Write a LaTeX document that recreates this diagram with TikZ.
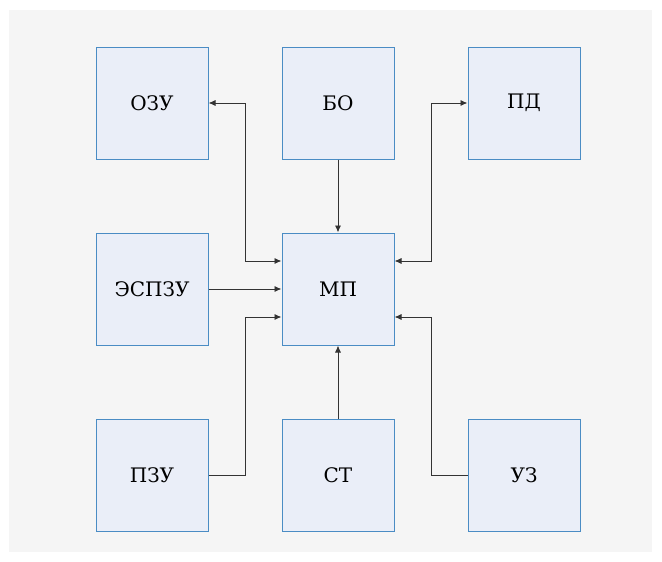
\documentclass[tikz,border=0pt]{standalone}
\usepackage{fontspec}
\setmainfont{DejaVu Serif}
\usetikzlibrary{arrows.meta}
\definecolor{bgc}{HTML}{F5F5F5}
\definecolor{boxfill}{HTML}{EAEEF8}
\definecolor{boxdraw}{HTML}{4A8CC4}
\definecolor{linec}{HTML}{333333}
\begin{document}
\begin{tikzpicture}[x=1pt,y=-1pt,
  blk/.style={draw=boxdraw,fill=boxfill,line width=1pt,minimum width=112pt,minimum height=112pt,inner sep=0pt,font=\fontsize{20}{22}\selectfont},
  conn/.style={draw=linec,line width=0.9pt,-{Latex[length=7pt,width=6pt]}},
  bconn/.style={draw=linec,line width=0.9pt,{Latex[length=7pt,width=6pt]}-{Latex[length=7pt,width=6pt]}}]
\useasboundingbox (0,0) rectangle (662,562);
\fill[white] (0,0) rectangle (662,562);
\fill[bgc] (9,10) rectangle (652,552);
\node[blk] (ozu) at (152,103) {ОЗУ};
\node[blk] (bo) at (338,103) {БО};
\node[blk] (pd) at (524,103) {ПД};
\node[blk] (espzu) at (152,289) {ЭСПЗУ};
\node[blk] (mp) at (338,289) {МП};
\node[blk] (pzu) at (152,475) {ПЗУ};
\node[blk] (st) at (338,475) {СТ};
\node[blk] (uz) at (524,475) {УЗ};
\coordinate (mpL1) at ([yshift=28pt]mp.west);
\coordinate (mpL3) at ([yshift=-28pt]mp.west);
\coordinate (mpR1) at ([yshift=28pt]mp.east);
\coordinate (mpR3) at ([yshift=-28pt]mp.east);
\draw[bconn] (ozu.east) -- (245,103) -- (245,261) -- (mpL1);
\draw[bconn] (pd.west) -- (431,103) -- (431,261) -- (mpR1);
\draw[conn] (espzu.east) -- (mp.west);
\draw[conn] (bo.south) -- (mp.north);
\draw[conn] (st.north) -- (mp.south);
\draw[conn] (pzu.east) -- (245,475) -- (245,317) -- (mpL3);
\draw[conn] (uz.west) -- (431,475) -- (431,317) -- (mpR3);
\end{tikzpicture}
\end{document}
